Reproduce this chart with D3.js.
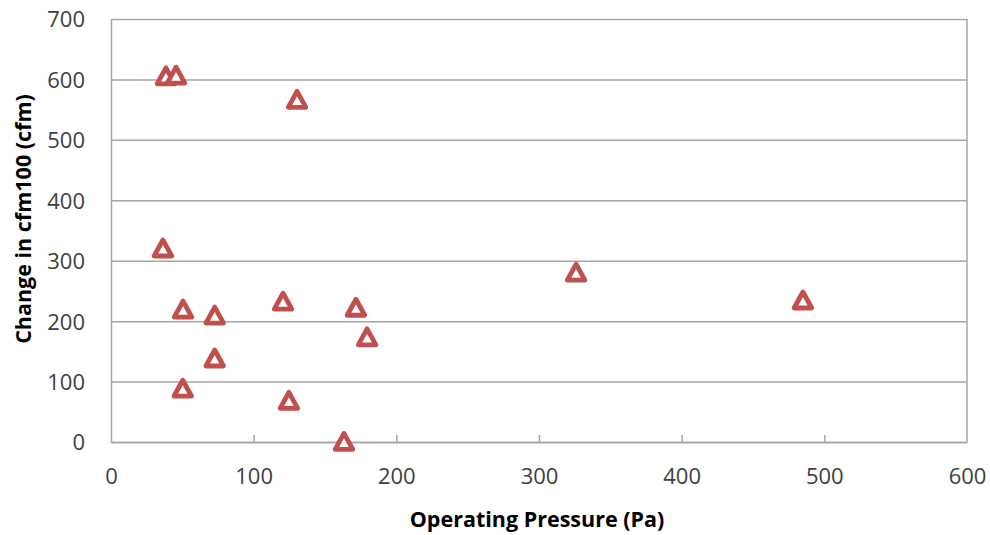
<!DOCTYPE html>
<html>
<head>
<meta charset="utf-8">
<script src="https://cdn.jsdelivr.net/npm/d3@7"></script>
<style>
  html, body { margin: 0; padding: 0; background: #fff; }
  svg { display: block; }
</style>
</head>
<body>
<svg id="chart" width="990" height="535"></svg>
<script>
// Data: operating pressure (Pa) vs change in cfm100 (cfm)
const pressure = [38.5, 45.6, 130.4, 36.4, 50.5, 72.7, 120.6, 171.7, 179.5, 72.7, 50.3, 124.7, 163.3, 326, 485];
const changeCfm = [606, 607, 567, 321, 220, 210, 233, 223, 174, 139, 89, 69, 1, 281, 235];
const xTicks = [0, 100, 200, 300, 400, 500, 600];
const yTicks = [0, 100, 200, 300, 400, 500, 600, 700];
const xTitle = "Operating Pressure (Pa)";
const yTitle = "Change in cfm100 (cfm)";

const svg = d3.select("#chart");
const m = { left: 111, right: 967, top: 19, bottom: 442 };

const x = d3.scaleLinear().domain([0, 600]).range([m.left, m.right]);
const y = d3.scaleLinear().domain([0, 700]).range([m.bottom, m.top]);

const gridColor = "#a6a6a6";
const tickFont = "'Open Sans', 'Liberation Sans', sans-serif";

// Horizontal gridlines
svg.append("g")
  .attr("transform", `translate(${m.left},0)`)
  .call(d3.axisLeft(y).tickValues(yTicks).tickSize(-(m.right - m.left)).tickFormat(""))
  .call(g => g.select(".domain").remove())
  .call(g => g.selectAll("line").attr("stroke", gridColor).attr("stroke-width", 1.5));

// Right border
svg.append("line")
  .attr("x1", m.right).attr("x2", m.right)
  .attr("y1", m.top).attr("y2", m.bottom)
  .attr("stroke", gridColor).attr("stroke-width", 1.5);

// Y axis
const yAxis = svg.append("g")
  .attr("transform", `translate(${m.left},0)`)
  .call(d3.axisLeft(y).tickValues(yTicks).tickSize(0).tickPadding(26));
yAxis.select(".domain").attr("stroke", gridColor).attr("stroke-width", 1.5);
yAxis.selectAll("text")
  .attr("font-family", tickFont).attr("font-size", 22).attr("fill", "#404040")
  .attr("dy", "0.36em");

// X axis with inside ticks
const xAxis = svg.append("g")
  .attr("transform", `translate(0,${m.bottom})`)
  .call(d3.axisBottom(x).tickValues(xTicks).tickSizeInner(-7).tickSizeOuter(0).tickPadding(0));
xAxis.select(".domain").attr("stroke", gridColor).attr("stroke-width", 1.5);
xAxis.selectAll("line").attr("stroke", gridColor).attr("stroke-width", 1.5);
xAxis.selectAll("text")
  .attr("font-family", tickFont).attr("font-size", 22).attr("fill", "#404040")
  .attr("y", 42).attr("dy", 0);
xAxis.selectAll(".tick line").filter(d => d === 0 || d === 600).remove();

// Axis titles
svg.append("text")
  .attr("x", (m.left + m.right) / 2 - 2)
  .attr("y", 527)
  .attr("text-anchor", "middle")
  .attr("font-family", tickFont)
  .attr("font-weight", "bold")
  .attr("font-size", 21.5)
  .attr("fill", "#000")
  .text(xTitle);

svg.append("text")
  .attr("transform", `translate(31,219) rotate(-90)`)
  .attr("text-anchor", "middle")
  .attr("font-family", tickFont)
  .attr("font-weight", "bold")
  .attr("font-size", 21.5)
  .attr("fill", "#000")
  .text(yTitle);

// Triangle markers
const tri = "M0,-8L8.8,8L-8.8,8Z";
svg.append("g")
  .selectAll("path")
  .data(pressure.map((p, i) => ({ p, c: changeCfm[i] })))
  .join("path")
  .attr("d", tri)
  .attr("transform", d => `translate(${x(d.p)},${y(d.c)})`)
  .attr("fill", "#fff")
  .attr("stroke", "#c0504d")
  .attr("stroke-width", 4.8)
  .attr("stroke-linejoin", "round");
</script>
</body>
</html>
